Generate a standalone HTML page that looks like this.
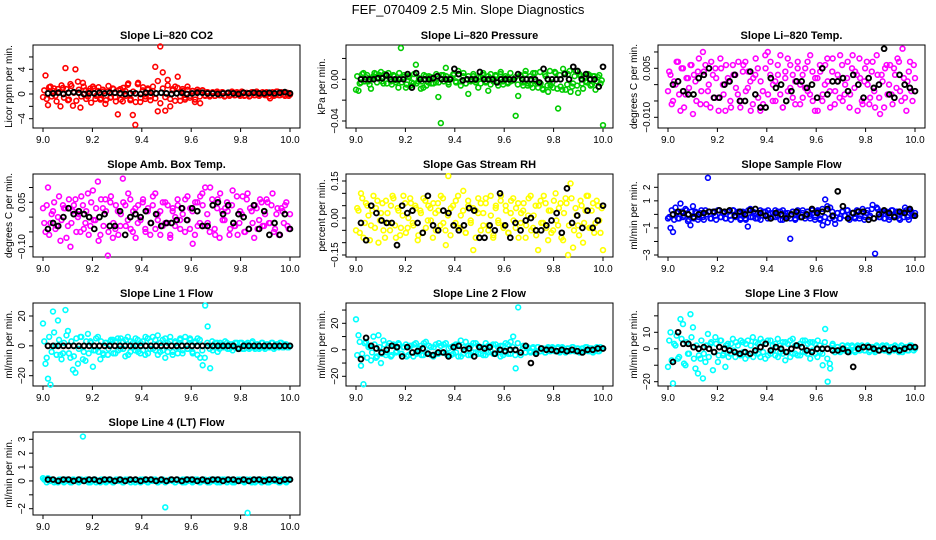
<!DOCTYPE html>
<html><head><meta charset="utf-8">
<style>
html,body{margin:0;padding:0;background:#fff}
svg{display:block}
text{font-family:"Liberation Sans",sans-serif}
</style></head>
<body>
<svg id="chart" width="936" height="540" viewBox="0 0 936 540">
<text x="468" y="14" font-size="13" text-anchor="middle">FEF_070409  2.5 Min. Slope Diagnostics</text>
</svg>
<script>
const xTickLabels = ["9.0","9.2","9.4","9.6","9.8","10.0"];
const xTickValues = [9.0,9.2,9.4,9.6,9.8,10.0];

const co2Vals = [-0.5,3,-1.8,1.2,0.5,-0.3,0.8,-2,1,4.2,-1,1.6,-1.9,4,2,-2.2,1.8,0.6,-0.4,0.9,1.2,-0.8,0.5,-0.9,0.7,-1.6,0.4,-0.6,0.9,-0.5,-3.3,0.8,-1.2,0.5,1.5,-1,-3.4,-5,1.6,-1.3,0.6,-0.8,0.9,-0.4,0.5,4.4,-2.8,7.7,3.5,-2.7,2.3,-2,0.8,1.2,2.8,-1.1,0.5,-0.6,0.7,-0.3,0.5,-0.9,0.4,-1.5,0.6,-0.3,0.3,-0.2,0.3,-0.3,0.2,-0.2,0.3,-0.3,0.2,-0.1,0.3,-0.2,0.2,-0.3,0.3,-0.2,0.1,-0.3,0.3,-0.2,0.2,-0.1,0.3,-0.2,0.2,-0.7,0.3,-0.2,0.4,-0.2,0.2,-0.3,0.2,-0.1];
const co2Band = [0.6,-0.8,1.1,-0.4,0.9,-1.2,0.3,1.4,-0.6,0.8,-0.9,1.3,0.2,-1.1,0.7,-0.4,1.2,-0.8,0.5,-1.4,0.9,-0.3,1.1,-0.7,0.4,-1,1.3,-0.5,0.8,-1.2,0.6,-0.9,1,-0.3,1.7,-0.8,0.4,-1.3,1.8,-0.6,1.1,-0.4,0.7,-1,1.2,-0.7,2.1,-1.5,0.9,-0.5,1.4,-0.8,0.6,-1.1,1,-0.4,0.8,-0.9,1.2,-0.6,0.5,-1.3,0.7,-0.4,0.6,-0.2,0.3,-0.4,0.2,-0.3,0.4,-0.2,0.3,-0.4,0.1,-0.3,0.4,-0.2,0.3,-0.1,0.4,-0.3,0.2,-0.4,0.3,-0.2,0.4,-0.3,0.2,-0.1,0.3,-0.4,0.2,-0.3,0.4,-0.2,0.3,-0.1,0.2,-0.3];
const co2Black = [0.1,0.1,0.2,0,0.2,0.3,0.2,0,0.1,0.1,0.2,0.1,0.2,0.2,0.1,0,0.1,0.1,0,0.2,0.2,0.1,0.2,0.1,0,0.1,0.2,0,0.1,0.2,0.2,0.1,0.1,0,0.1,0.2,0.1,0,0.2,0.1,0.2,0.1,0.1,0.2,0.1,0.2,0.3,0.1];

const presVals = [-10,-11,-3,6,2,-2,-9,3,5,2,7,-4,3,6,-2,4,-3,-8,30,2,-8,3,-6,-4,14,-2,-9,-8,3,-3,2,-4,-3,-17,-42,4,11,-3,2,5,-2,8,-6,3,-4,-14,-2,3,-1,-8,2,4,-3,-11,5,-2,3,-6,7,-5,1,-3,-2,-1,-35,-16,3,-6,8,-4,-5,6,-2,-8,-4,-10,3,-12,-6,-8,6,-28,-7,10,-10,5,-12,-4,8,-13,3,-9,-2,5,-6,3,-10,2,-4,-44];
const presBand = [3,-4,5,-2,4,-5,1,6,-3,4,-2,5,-4,2,-5,3,-1,6,-3,4,-5,2,-3,5,-4,1,-2,4,-6,3,-4,2,5,-3,4,-2,3,-5,1,4,-3,5,-2,6,-4,3,-1,5,-3,2,-4,6,-2,3,-5,1,4,-3,5,-2,3,-4,6,-1,2,-5,4,-3,5,-6,3,-8,6,-4,7,-9,5,-6,8,-3,7,-9,4,-10,6,-5,8,-7,3,-6,5,-4,2,-3,4,-5,3,-2,4,-1];
const presBlack = [0,0,0,0,1,1,4,0,0,0,0,5,-8,6,0,0,0,1,3,0,0,0,10,5,-1,0,0,0,7,0,0,0,-3,0,0,0,0,5,0,0,0,0,-3,10,0,0,0,0,5,0,12,8,0,5,0,0,-7,12];

const tempVals = [-2,3,-5,0,7,-8,5,-3,2,6,-9,1,4,-6,10,6,-2,-7,3,5,-4,8,0,-8,2,-5,6,3,-3,-7,4,7,-1,1,-6,3,5,-8,-2,9,10,3,-5,1,6,-3,-7,2,8,-1,3,-6,7,0,-4,5,-2,9,-5,2,-8,4,-3,6,1,-7,8,-2,3,9,-5,0,7,-3,9,4,-8,2,-6,5,0,-4,7,-7,3,-9,1,5,-3,6,-6,3,8,-2,11,-4,1,7,-5,2];
const tempBand = [4,-6,1,7,-3,5,-7,2,-1,6,3,-5,8,-2,4,-6,0,7,-4,2,-8,5,-3,6,1,-7,3,-1,7,-5,6,-2,4,-8,2,8,-4,1,-6,5,-3,7,0,-5,3,9,-7,4,-2,6,-4,1,5,-6,3,-1,7,-3,4,-8,2,6,-5,0,8,-2,4,-6,1,-4,6,-3,2,-7,5,-1,3,8,-5,1,7,-6,4,-2,9,-4,3,-7,6,0,-3,5,-1,7,-5,2,-8,4,-2,6];
const tempBlack = [0,1,-2,-3,-3,2,3,5,-4,-4,0,1,3,-5,-5,4,-3,-7,-7,2,-1,0,-5,-2,1,1,-1,0,-4,5,-3,1,1,2,-2,3,0,-4,2,-1,0,11,-3,-4,3,0,-1,-2];

const ambVals = [3,-5,10,-2,2,-4,0,-8,4,3,-3,-10,2,6,0,-5,4,-2,8,-3,9,-1,12,-6,3,6,-13,5,-7,-4,2,-3,13,4,-1,6,-5,3,-2,0,5,-4,2,-6,4,8,-1,2,-3,5,-2,-6,3,0,4,-4,1,6,-1,3,-9,5,-3,7,4,10,-2,10,4,-6,6,8,-1,3,2,-4,9,-3,-6,2,7,-5,8,3,-2,4,-4,6,-3,1,5,-2,8,-4,3,-6,2,4,-3,1];
const ambBand = [-2,4,-6,1,5,-3,7,-1,3,-7,6,-2,4,-5,1,7,-4,2,-6,5,-1,3,-8,6,-3,2,-5,7,-2,4,-6,1,5,-3,8,-4,2,-7,4,-1,6,-5,3,-2,7,-4,1,-6,5,-2,4,-7,2,-3,6,-1,3,-5,7,-4,2,-6,5,-2,8,-3,1,-5,6,-4,3,-7,2,-1,5,-6,4,-3,7,-2,1,-5,6,-4,2,-7,3,-1,5,-3,6,-2,4,-5,1,-6,3,-2,5,-4];
const ambBlack = [-4,-2,-3,0,3,1,2,1,0,-4,0,1,-3,-3,2,-6,0,1,0,2,-2,1,-3,-2,-2,-1,3,-1,3,2,-3,-3,4,5,1,4,-2,1,0,-4,4,-4,2,-6,-2,-6,1,-4];

const rhVals = [-5,3,10,-8,6,1,-3,9,4,-10,2,-5,7,-2,5,8,-8,3,-4,9,-6,0,6,-3,4,-7,2,8,-4,5,-1,6,-5,3,9,-2,-11,17,4,-3,7,-4,1,11,-6,5,-2,-13,3,8,-5,2,6,-3,9,-8,4,-1,7,-3,5,-6,2,8,-4,6,-2,3,-8,1,9,-4,5,-13,7,-2,6,-9,3,-5,10,-3,6,-9,8,-15,14,-12,4,-3,7,-10,3,9,-4,6,-2,5,-6,-13];
const rhBand = [4,-6,8,-2,5,-9,3,-4,7,-1,6,-8,2,-5,9,-3,4,-7,1,6,-4,8,-2,5,-9,3,-6,7,-1,4,-8,2,6,-3,8,-5,1,-7,5,-2,9,-4,3,-6,7,-1,4,-8,2,6,-3,8,-5,1,-7,5,-2,9,-4,3,-6,7,-1,4,-8,2,6,-3,8,-5,1,-7,5,-2,9,-4,3,-6,7,-1,4,-8,2,6,-3,8,-5,1,-7,5,-2,9,-4,3,-6,7,-1,4];
const rhBlack = [-2,-9,5,2,-1,-2,-2,-11,5,2,3,-2,-6,9,-3,-5,3,2,-3,-5,-3,4,3,-8,-8,-3,-5,10,-3,-8,-2,-5,-1,0,-5,-5,-3,-1,2,-6,12,-2,1,-4,3,-4,-1,5];

const sfVals = [-3,-10,-13,5,-3,8,-2,4,-5,-8,6,2,-4,1,-2,3,27,-3,2,-1,3,-2,1,-3,2,-1,3,-2,1,-4,2,-3,-9,4,-2,1,-3,3,-1,2,-3,1,-2,3,-1,2,-4,1,-2,-18,2,-3,1,-2,3,-1,2,-3,1,-2,3,-4,-8,11,-6,5,-2,-7,1,-3,2,-1,3,-2,1,-3,2,-1,4,-2,3,-1,7,-29,4,-2,2,-3,1,-2,3,-1,2,-4,1,5,-2,3,-1,1];
const sfBand = [-2,3,-4,1,-3,2,-1,3,-4,2,-3,1,-2,3,-4,0,2,-3,1,-4,3,-2,1,-3,2,-4,3,-1,2,-3,1,-4,3,-2,2,-3,1,-4,2,-1,3,-3,1,-2,2,-4,3,-1,1,-3,2,-4,3,-2,1,-3,2,-1,3,-4,2,-3,4,-2,6,-3,2,-4,1,-3,2,-1,3,-4,1,-2,3,-3,2,-4,1,-2,4,-3,5,-2,1,-3,2,-4,3,-1,2,-3,1,-2,3,-4,2,-1];
const sfBlack = [0,2,1,0,-2,0,1,2,2,3,2,3,-1,2,0,3,4,1,-1,-3,1,0,-3,0,2,-2,0,4,1,2,4,-1,17,6,-3,1,2,2,-4,-3,0,3,1,-2,2,1,4,-1];

const l1Vals = [15,-12,-22,-26,23,0,17,-6,-5,24,10,-8,-16,-18,-12,6,-9,-10,8,3,-14,-3,6,-9,-5,2,-6,3,4,-5,5,-2,3,-7,6,-4,2,-3,4,-5,3,-6,5,-2,6,-3,7,-4,4,-8,2,6,-4,3,-5,5,-3,6,-2,4,-5,3,5,-8,-13,27,13,-15,-3,2,-4,2,-1,3,-2,1,-3,2,-1,2,-2,1,2,-1,3,-2,1,-1,2,-2,1,-1,2,-1,1,2,-1,1,-1,0];
const l1Band = [3,-8,6,-4,9,-6,4,-9,2,7,-5,3,-7,5,-2,6,-4,3,-5,2,-3,5,-4,3,-6,2,-2,4,-5,3,-3,5,-2,4,-6,3,-1,5,-4,2,-3,6,-5,3,-2,4,-6,2,-3,5,-4,3,-6,2,-1,4,-5,3,-2,5,-4,2,-6,4,-3,-8,2,-2,3,-1,2,-2,1,-1,2,-2,1,-1,2,-1,2,-2,1,-2,2,-1,1,-2,2,-1,1,-1,2,-2,1,-1,2,-1,1,-1];
const l1Black = [0,0,0,0,0,0,0,0,0,0,0,0,0,0,0,0,0,0,0,0,0,0,0,0,0,0,0,0,0,0,0,0,0,0,0,0,0,-2,0,0,0,0,0,0,0,0,0,0];

const l2Vals = [23,11,-12,-26,6,2,-8,10,-6,11,-10,7,-4,3,-5,4,-2,5,-3,2,4,-4,3,-5,5,-2,3,-4,6,-3,2,-5,4,-3,3,-2,5,-4,2,-3,4,-5,7,-3,6,-4,3,-2,5,-3,2,-4,5,-2,3,-3,4,-2,3,-4,5,-3,6,10,-14,32,-4,3,-2,1,-2,2,-1,2,-1,1,-2,2,-1,1,-1,2,-1,1,-2,1,-1,2,-1,1,-1,1,2,-1,1,-2,1,-1,2,1];
const l2Band = [-4,6,-3,5,-6,3,-2,4,-5,2,-3,4,-2,5,-4,3,-1,4,-3,2,-5,3,-2,4,-3,1,-4,5,-2,3,-4,2,-3,5,-2,4,-3,1,-4,3,-2,4,-5,2,-1,3,-4,5,-2,3,-3,2,-4,3,-1,4,-3,2,-5,3,-2,4,-3,2,-4,5,-2,1,-2,2,-1,1,-2,2,-1,1,-2,1,-1,2,-1,1,-2,2,-1,1,-1,2,-1,1,-2,1,-1,2,-1,1,-1,2,-1,1];
const l2Black = [-7,9,3,1,-2,0,3,2,-5,2,-2,-1,1,-3,-4,-2,-2,-5,2,3,0,1,-5,2,1,2,-3,0,-1,0,0,-2,3,-10,-3,1,0,0,-1,0,-1,0,-1,-2,0,0,1,1];

const l3Vals = [-11,10,-21,2,-6,18,15,-10,-3,21,13,-12,-15,-6,-18,-8,9,3,-13,7,-8,5,-4,-11,3,-3,6,-5,2,-4,4,-6,5,-3,7,-2,3,-5,4,-6,5,-3,2,-4,6,-2,4,-7,3,-5,6,-3,2,-4,5,-2,3,-6,4,-3,5,-2,-10,12,-20,-12,3,-2,1,-2,2,-1,2,-1,1,-2,2,-1,1,-1,2,-1,1,-2,1,-1,2,-1,1,-1,1,2,-1,1,-2,1,-1,2,1,0];
const l3Band = [5,-7,3,8,-5,6,-9,4,-3,7,-6,2,-4,5,-3,2,-5,4,-2,3,-4,5,-3,2,-5,3,-1,4,-3,5,-2,3,-4,2,-5,4,-3,6,-2,3,-4,5,-1,3,-5,2,-3,4,-2,5,-3,2,-4,3,-2,5,-3,4,-1,3,-5,2,-3,4,-6,-9,2,-2,1,-1,2,-1,1,-2,2,-1,1,-1,2,-1,1,-2,1,-1,2,-1,1,-1,2,-2,1,-1,1,-2,2,-1,1,-1,2,-1];
const l3Black = [-8,10,3,3,1,0,1,0,-2,1,0,-1,-2,-3,-2,-3,-1,1,3,-1,1,0,-2,0,2,1,-1,-2,0,0,0,-1,-1,0,-2,-11,0,1,1,0,-1,0,-1,0,-1,0,1,1];

const l4Vals = [2,1,2,0,1,0,-1,1,0,1,0,-1,1,0,1,0,32,0,1,-1,0,1,0,-1,1,0,0,1,-1,0,1,0,-1,1,0,1,0,-1,0,1,0,1,-1,0,1,0,-1,0,1,-19,0,1,0,-1,1,0,1,-1,0,1,0,1,0,-1,1,0,-1,1,0,1,0,-1,1,0,1,0,-1,0,1,0,1,0,-23,1,0,-1,1,0,1,0,-1,0,1,0,1,-1,0,1,0,1];
const l4Band = [1,-1,0,1,-1,0,1,0,-1,1,0,-1,1,0,-1,1,0,1,-1,0,1,-1,0,1,0,-1,1,0,-1,1,0,1,-1,0,1,-1,0,1,0,-1,1,0,-1,1,0,1,-1,0,1,-1,0,1,0,-1,1,0,-1,1,0,1,-1,0,1,-1,0,1,0,-1,1,0,-1,1,0,1,-1,0,1,-1,0,1,0,-1,1,0,-1,1,0,1,-1,0,1,-1,0,1,0,-1,1,0,-1,1];
const l4Black = [1,1,0,1,1,0,1,0,1,1,0,1,1,0,1,0,1,1,0,1,1,0,1,0,1,1,0,1,1,0,1,0,1,1,0,1,1,0,1,0,1,1,0,1,1,0,1,1];

const colX = [33,346,658], rowY = [45,174,303,432], W = 267, H = 83;
const panels = [
 {name:"co2",col:0,row:0,title:"Slope Li\u2013820 CO2",ylab:"Licor ppm per min.",vals:co2Vals,band:co2Band,blk:co2Black,k:1,color:"#ff0000",ref:[0,94,4,69.3],ticks:[-4,-2,0,2,4,6],labels:[-4,0,4]},
 {name:"pressure",col:1,row:0,title:"Slope Li\u2013820 Pressure",ylab:"kPa per min.",vals:presVals,band:presBand,blk:presBlack,k:0.001,color:"#00cc00",ref:[0,79.3,-0.04,121],ticks:[-0.04,-0.02,0,0.02],labels:[-0.04,0],fmt:2},
 {name:"temp",col:2,row:0,title:"Slope Li\u2013820 Temp.",ylab:"degrees C per min.",vals:tempVals,band:tempBand,blk:tempBlack,k:0.001,color:"#ff00ff",ref:[0.005,68.3,-0.010,117.3],ticks:[-0.01,-0.005,0,0.005,0.01],labels:[-0.01,0.005],fmt:3},
 {name:"amb-box-temp",col:0,row:1,title:"Slope Amb. Box Temp.",ylab:"degrees C per min.",vals:ambVals,band:ambBand,blk:ambBlack,k:0.01,color:"#ff00ff",ref:[0.05,202.3,-0.10,246.7],ticks:[-0.1,-0.05,0,0.05,0.1],labels:[-0.1,0.05],fmt:2},
 {name:"gas-stream-rh",col:1,row:1,title:"Slope Gas Stream RH",ylab:"percent per min.",vals:rhVals,band:rhBand,blk:rhBlack,k:0.01,color:"#ffff00",ref:[0.15,181,-0.15,255],ticks:[-0.15,-0.1,-0.05,0,0.05,0.1,0.15],labels:[-0.15,0,0.15],fmt:2},
 {name:"sample-flow",col:2,row:1,title:"Slope Sample Flow",ylab:"ml/min per min.",vals:sfVals,band:sfBand,blk:sfBlack,k:0.1,color:"#0000ff",ref:[2,187.3,-3,255],ticks:[-3,-2,-1,0,1,2],labels:[-3,-1,1,2]},
 {name:"line1-flow",col:0,row:2,title:"Slope Line 1 Flow",ylab:"ml/min per min.",vals:l1Vals,band:l1Band,blk:l1Black,k:1,color:"#00ffff",ref:[20,316,-20,375.7],ticks:[-20,-10,0,10,20],labels:[-20,0,20]},
 {name:"line2-flow",col:1,row:2,title:"Slope Line 2 Flow",ylab:"ml/min per min.",vals:l2Vals,band:l2Band,blk:l2Black,k:1,color:"#00ffff",ref:[20,323.3,-20,376.3],ticks:[-20,-10,0,10,20,30],labels:[-20,0,20]},
 {name:"line3-flow",col:2,row:2,title:"Slope Line 3 Flow",ylab:"ml/min per min.",vals:l3Vals,band:l3Band,blk:l3Black,k:1,color:"#00ffff",ref:[10,332.3,-20,381.7],ticks:[-20,-10,0,10,20],labels:[-20,0,10]},
 {name:"line4-flow",col:0,row:3,title:"Slope Line 4 (LT) Flow",ylab:"ml/min per min.",vals:l4Vals,band:l4Band,blk:l4Black,k:0.1,color:"#00ffff",ref:[3,439.3,-2,508.7],ticks:[-2,-1,0,1,2,3],labels:[-2,0,1,2,3]}
];

const NS = "http://www.w3.org/2000/svg";
const svg = document.getElementById("chart");
function mk(tag, attrs, parent){
  const e = document.createElementNS(NS, tag);
  for (const a in attrs) e.setAttribute(a, attrs[a]);
  (parent||svg).appendChild(e);
  return e;
}
panels.forEach(p => {
  const bx = colX[p.col], by = rowY[p.row];
  const g = mk("g", {});
  
  
  const xs = t => bx + 10 + (t - 9) * 247;
  const slope = (p.ref[3] - p.ref[1]) / (p.ref[2] - p.ref[0]);
  const ys = v => p.ref[1] + (v - p.ref[0]) * slope;

  const tt = mk("text", {x: bx + W/2, y: by - 6, "font-size": 11, "font-weight": "bold", "text-anchor": "middle"}, g);
  tt.textContent = p.title;
  
  

  const box = mk("rect", {x: bx, y: by, width: W, height: H, fill: "none", stroke: "#000", "stroke-width": 1}, g);
  
  

  const xa = mk("g", {}, g);
  
  
  mk("line", {x1: xs(9), x2: xs(10), y1: by + H, y2: by + H, stroke: "#000"}, xa);
  xTickValues.forEach((v, i) => {
    mk("line", {x1: xs(v), x2: xs(v), y1: by + H, y2: by + H + 4, stroke: "#000"}, xa);
    const t = mk("text", {x: xs(v), y: by + H + 15, "font-size": 10, "text-anchor": "middle"}, xa);
    t.textContent = xTickLabels[i];
    
    
  });
  const ya = mk("g", {}, g);
  
  
  p.ticks.forEach(v => {
    mk("line", {x1: bx - 4, x2: bx, y1: ys(v), y2: ys(v), stroke: "#000"}, ya);
  });
  mk("line", {x1: bx, x2: bx, y1: ys(p.ticks[0]), y2: ys(p.ticks[p.ticks.length-1]), stroke: "#000"}, ya);
  p.labels.forEach(v => {
    const s = p.fmt ? (v === 0 ? (0).toFixed(p.fmt) : v.toFixed(p.fmt)).replace("-", "\u2212") : String(v).replace("-", "\u2212");
    const t = mk("text", {x: 0, y: 0, "font-size": 10, "text-anchor": "middle", transform: `translate(${bx - 8},${ys(v)}) rotate(-90)`}, ya);
    t.textContent = s;
    
    
  });
  const yl = mk("text", {x: 0, y: 0, "font-size": 10, "text-anchor": "middle", transform: `translate(${bx - 21},${by + H/2}) rotate(-90)`}, g);
  yl.textContent = p.ylab;
  
  

  const cs = mk("g", {}, g);
  
  
  const nb = p.band.length;
  p.band.forEach((v, i) => {
    const t = 9 + (i + 0.5) / nb;
    const c = mk("circle", {cx: xs(Math.min(t, 10)), cy: ys(v * p.k), r: 2.4, fill: "none", stroke: p.color, "stroke-width": 1.6}, cs);
    
    
  });
  const n = p.vals.length;
  p.vals.forEach((v, i) => {
    const t = 9 + i / (n - 1);
    const c = mk("circle", {cx: xs(t), cy: ys(v * p.k), r: 2.4, fill: "none", stroke: p.color, "stroke-width": 1.6}, cs);
    
    
  });
  const bs = mk("g", {}, g);
  
  
  const m = p.blk.length;
  p.blk.forEach((v, j) => {
    const t = 9.02 + j * 0.98 / (m - 1);
    const c = mk("circle", {cx: xs(t), cy: ys(v * p.k), r: 2.4, fill: "none", stroke: "#000", "stroke-width": 1.9}, bs);
    
    
  });
});
</script>
</body></html>
